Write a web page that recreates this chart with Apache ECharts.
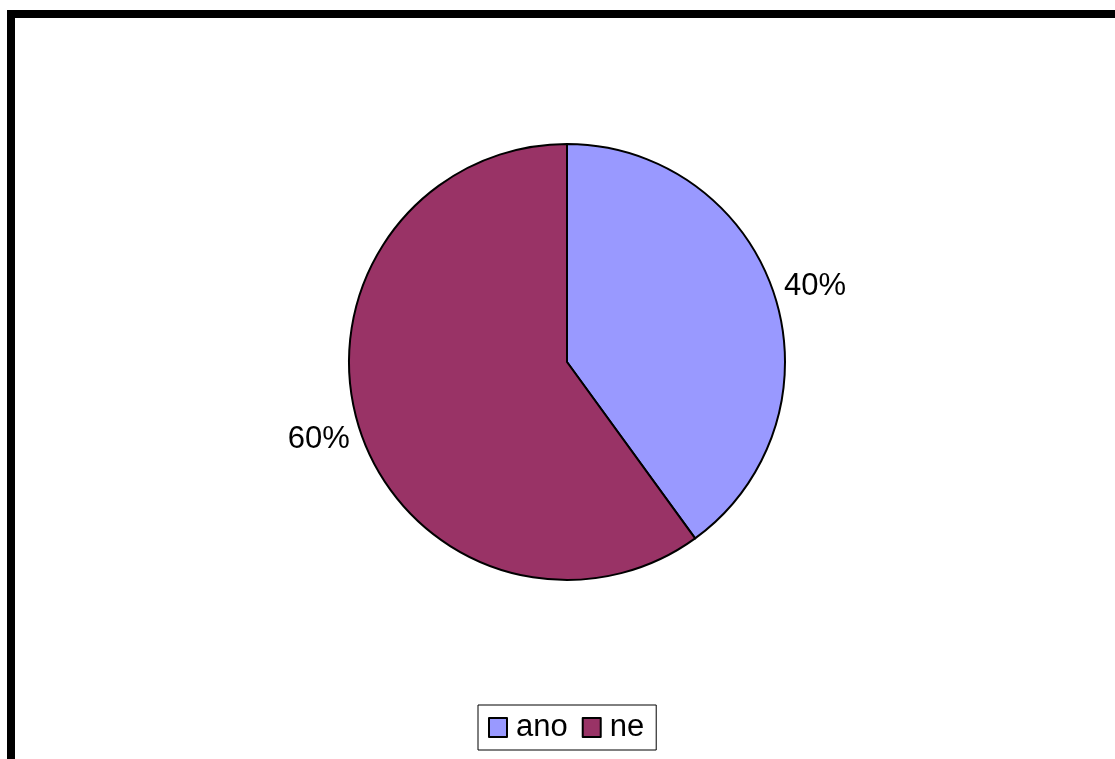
<!DOCTYPE html>
<html>
<head>
<meta charset="utf-8">
<script src="https://cdn.jsdelivr.net/npm/echarts@6/dist/echarts.min.js"></script>
<style>
html,body{margin:0;padding:0;background:#fff;}
#chart{width:1115px;height:759px;}
</style>
</head>
<body>
<div id="chart"></div>
<script>
const categories = ['ano', 'ne'];
const values = [40, 60];
const colors = ['#9999FF', '#993366'];

const chart = echarts.init(document.getElementById('chart'), null, {renderer: 'canvas'});
chart.setOption({
  backgroundColor: '#ffffff',
  animation: false,
  graphic: [{
    type: 'rect',
    shape: {x: 11, y: 14, width: 1200, height: 800},
    style: {fill: 'none', stroke: '#000', lineWidth: 8},
    silent: true
  }],
  legend: {
    data: categories,
    left: 478,
    top: 705,
    orient: 'horizontal',
    itemWidth: 18,
    itemHeight: 19,
    itemGap: 14,
    padding: [7, 12, 7, 10],
    borderColor: '#000',
    borderWidth: 1,
    icon: 'rect',
    itemStyle: {borderColor: '#000', borderWidth: 2},
    textStyle: {fontFamily: 'Liberation Sans, Arial, sans-serif', fontSize: 31, color: '#000', padding: [0, 0, 0, 4]}
  },
  series: [{
    type: 'pie',
    center: [567, 362],
    radius: 218,
    startAngle: 90,
    clockwise: true,
    itemStyle: {borderColor: '#000', borderWidth: 2},
    label: {
      show: true,
      position: 'outside',
      formatter: '{d}%',
      fontFamily: 'Liberation Sans, Arial, sans-serif',
      fontSize: 31,
      color: '#000'
    },
    labelLine: {show: false, length: 5, length2: 0},
    labelLayout: function (p) { return {dy: p.dataIndex === 0 ? -7 : 9}; },
    emphasis: {disabled: true},
    data: categories.map((c, i) => ({name: c, value: values[i], itemStyle: {color: colors[i]}}))
  }]
});
</script>
</body>
</html>
